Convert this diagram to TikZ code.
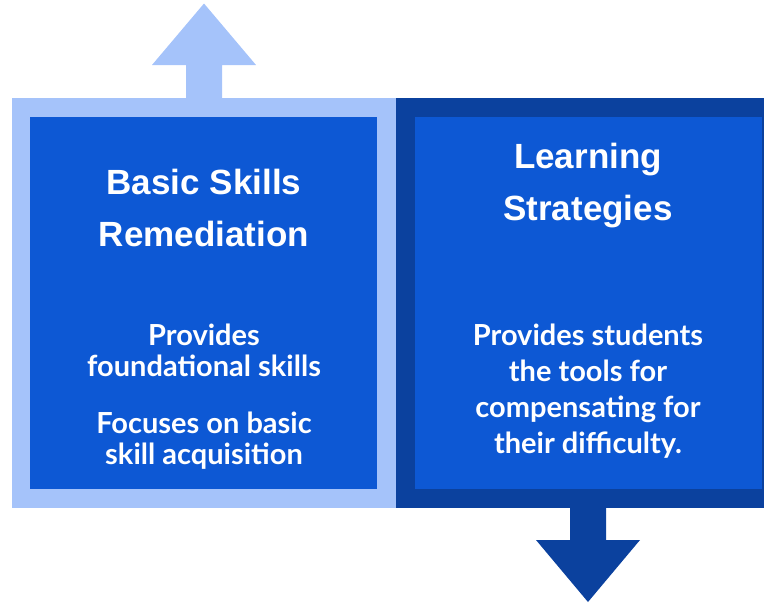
\documentclass[tikz,border=0pt]{standalone}
\usepackage{fontspec}
\setmainfont{Lato}
\newfontfamily\headfont{Liberation Sans}
\definecolor{Light}{HTML}{A5C3FA}
\definecolor{Mid}{HTML}{0D58D4}
\definecolor{Navy}{HTML}{0B419E}
\usetikzlibrary{positioning}
\tikzset{
  boxtitle/.style={text=white, align=center, inner sep=0pt, font=\headfont\fontsize{35}{52}\selectfont\bfseries},
  boxtext/.style={text=white, align=center, inner sep=0pt, font=\fontsize{29}{31}\selectfont\bfseries},
}
\begin{document}
\begin{tikzpicture}[x=1pt,y=-1pt]
\useasboundingbox (0,0) rectangle (764,603);
%frames
\fill[Light] (12,98) rectangle (396,508);
\fill[Navy] (396,98) rectangle (764,508);
%inner boxes
\fill[Mid] (30,117) rectangle (377,489);
\fill[Mid] (415,117) rectangle (762,489);
%up arrow
\fill[Light] (186,98) -- (186,65) -- (152,65) -- (204,3.5) -- (256,65) -- (222,65) -- (222,98) -- cycle;
%down arrow
\fill[Navy] (570,508) -- (570,540) -- (536,540) -- (588,602) -- (640,540) -- (606,540) -- (606,508) -- cycle;
%texts
\node[boxtitle] (remtitle) at (204,208) {Basic Skills\\Remediation};
\node[boxtitle] (strtitle) at (588,186) {Learning\\Strategies};
\node[boxtext] (remfound) at (204,350) {Provides\\foundational skills};
\node[boxtext] (remfocus) at (204,441) {Focuses on basic\\skill acquisition};
\node[boxtext, font=\fontsize{29}{36}\selectfont\bfseries] (strtools) at (588,391) {Provides students\\the tools for\\compensating for\\their difficulty.};
\end{tikzpicture}
\end{document}
